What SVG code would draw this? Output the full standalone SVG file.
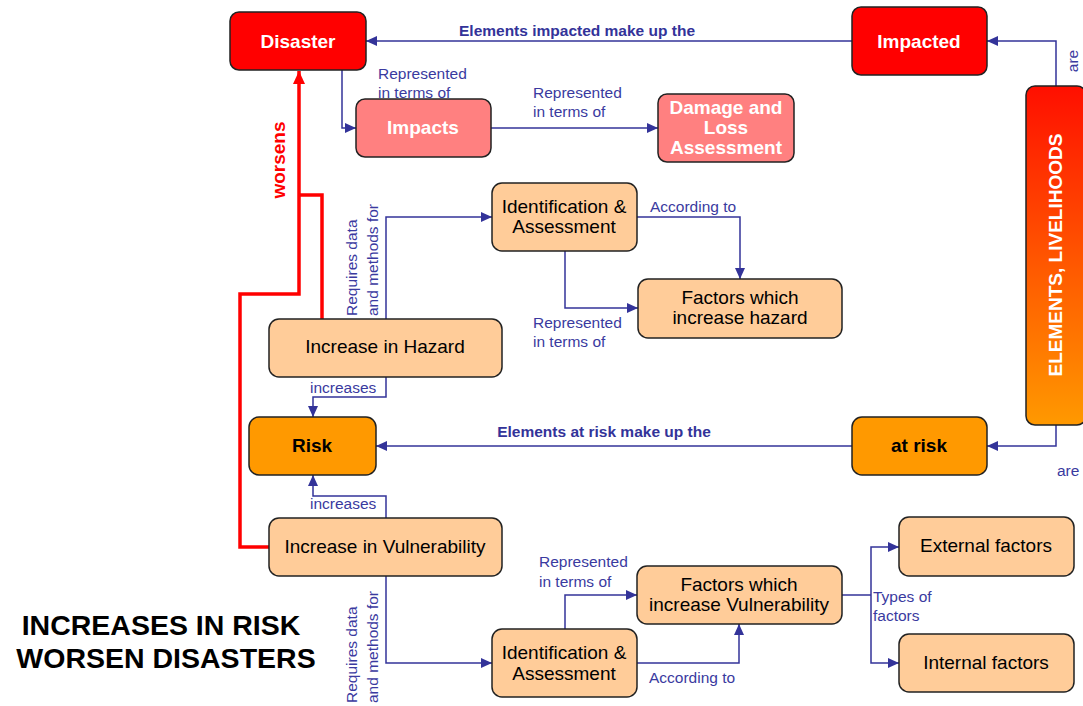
<svg xmlns="http://www.w3.org/2000/svg" width="1083" height="706" viewBox="0 0 1083 706">
<defs>
<marker id="ab" markerUnits="userSpaceOnUse" markerWidth="12" markerHeight="10" refX="11" refY="5" orient="auto"><path d="M0,0 L11,5 L0,10 z" fill="#333399"/></marker>
<marker id="ar" markerUnits="userSpaceOnUse" markerWidth="14" markerHeight="12" refX="13" refY="6" orient="auto"><path d="M0,0 L13,6 L0,12 z" fill="#ff0000"/></marker>
<linearGradient id="grad" x1="0" y1="0" x2="0" y2="1"><stop offset="0" stop-color="#ff0f00"/><stop offset="1" stop-color="#ff9900"/></linearGradient>
<style>
.n{stroke:#222;stroke-width:1.5}
.red{fill:#ff0000}
.pink{fill:#ff8080}
.org{fill:#ff9900}
.peach{fill:#ffcc99}
.tw{font-family:"Liberation Sans",Arial,sans-serif;font-weight:bold;font-size:19px;fill:#fff;text-anchor:middle}
.tb{font-family:"Liberation Sans",Arial,sans-serif;font-weight:bold;font-size:19px;fill:#000;text-anchor:middle}
.tn{font-family:"Liberation Sans",Arial,sans-serif;font-size:19px;fill:#000;text-anchor:middle}
.lb{font-family:"Liberation Sans",Arial,sans-serif;font-size:15.5px;fill:#3a3aa0}
.lbb{font-family:"Liberation Sans",Arial,sans-serif;font-size:15.5px;font-weight:bold;fill:#333399}
.c{fill:none;stroke:#333399;stroke-width:1.5}
.rc{fill:none;stroke:#ff0000;stroke-width:3.5}
</style>
</defs>
<g id="connectors">
<path class="c" d="M852,41 L366,41" marker-end="url(#ab)"/>
<path class="c" d="M1056,86 L1056,41 L987,41" marker-end="url(#ab)"/>
<path class="c" d="M342,70 L342,128 L356,128" marker-end="url(#ab)"/>
<path class="c" d="M491,128 L658,128" marker-end="url(#ab)"/>
<path class="c" d="M852,446 L376,446" marker-end="url(#ab)"/>
<path class="c" d="M1056,425 L1056,446 L987,446" marker-end="url(#ab)"/>
<path class="c" d="M386,319 L386,217 L492,217" marker-end="url(#ab)"/>
<path class="c" d="M637,217 L740,217 L740,279" marker-end="url(#ab)"/>
<path class="c" d="M565,251 L565,308 L638,308" marker-end="url(#ab)"/>
<path class="c" d="M386,377 L386,397 L313,397 L313,417" marker-end="url(#ab)"/>
<path class="c" d="M386,518 L386,496 L313,496 L313,475" marker-end="url(#ab)"/>
<path class="c" d="M386,576 L386,663 L492,663" marker-end="url(#ab)"/>
<path class="c" d="M565,629 L565,595 L637,595" marker-end="url(#ab)"/>
<path class="c" d="M637,663 L739,663 L739,624" marker-end="url(#ab)"/>
<path class="c" d="M842,595 L871,595"/>
<path class="c" d="M871,595 L871,547 L899,547" marker-end="url(#ab)"/>
<path class="c" d="M871,595 L871,663 L899,663" marker-end="url(#ab)"/>
<path class="rc" d="M322,319 L322,195 L299,195"/>
<path class="rc" d="M269,547 L240,547 L240,294 L299,294 L299,71" marker-end="url(#ar)"/>
<text class="lbb" x="577" y="36" text-anchor="middle">Elements impacted make up the</text>
<text class="lbb" x="604" y="437" text-anchor="middle">Elements at risk make up the</text>
<text class="lb" transform="translate(1078,61) rotate(-90)" text-anchor="middle">are</text>
<text class="lb" x="1057" y="476">are</text>
<text class="lb" x="378" y="79">Represented</text>
<text class="lb" x="378" y="98">in terms of</text>
<text class="lb" x="533" y="98">Represented</text>
<text class="lb" x="533" y="117">in terms of</text>
<text class="lb" x="650" y="212">According to</text>
<text class="lb" x="533" y="328">Represented</text>
<text class="lb" x="533" y="347">in terms of</text>
<text class="lb" x="310" y="393">increases</text>
<text class="lb" x="310" y="509">increases</text>
<text class="lb" x="539" y="567">Represented</text>
<text class="lb" x="539" y="587">in terms of</text>
<text class="lb" x="649" y="683">According to</text>
<text class="lb" x="873" y="602">Types of</text>
<text class="lb" x="873" y="621">factors</text>
<text class="lb" transform="translate(357,316) rotate(-90)">Requires data</text>
<text class="lb" transform="translate(378,316) rotate(-90)">and methods for</text>
<text class="lb" transform="translate(357,703) rotate(-90)">Requires data</text>
<text class="lb" transform="translate(378,703) rotate(-90)">and methods for</text>
<text transform="translate(285,160) rotate(-90)" text-anchor="middle" font-family="Liberation Sans, Arial, sans-serif" font-weight="bold" font-size="19" fill="#ff0000">worsens</text>
</g>
<g id="disaster"><rect class="n red" x="230" y="12" width="136" height="58" rx="9"/><text class="tw" x="298" y="48">Disaster</text></g>
<g id="impacted"><rect class="n red" x="852" y="7" width="135" height="68" rx="9"/><text class="tw" x="919" y="48">Impacted</text></g>
<g id="impacts"><rect class="n pink" x="356" y="99" width="135" height="58" rx="9"/><text class="tw" x="423" y="134">Impacts</text></g>
<g id="damage"><rect class="n pink" x="658" y="94" width="136" height="68" rx="9"/><text class="tw" x="726" y="114">Damage and</text><text class="tw" x="726" y="134">Loss</text><text class="tw" x="726" y="154">Assessment</text></g>
<g id="elements"><rect class="n" fill="url(#grad)" x="1026" y="86" width="60" height="339" rx="9"/><text class="tw" transform="translate(1062,255) rotate(-90)">ELEMENTS, LIVELIHOODS</text></g>
<g id="ident-hazard"><rect class="n peach" x="492" y="183" width="145" height="68" rx="10"/><text class="tn" x="564" y="213">Identification &amp;</text><text class="tn" x="564" y="233">Assessment</text></g>
<g id="factors-hazard"><rect class="n peach" x="638" y="279" width="204" height="59" rx="10"/><text class="tn" x="740" y="304">Factors which</text><text class="tn" x="740" y="324">increase hazard</text></g>
<g id="hazard"><rect class="n peach" x="269" y="319" width="233" height="58" rx="10"/><text class="tn" x="385" y="353">Increase in Hazard</text></g>
<g id="risk"><rect class="n org" x="249" y="417" width="127" height="58" rx="10"/><text class="tb" x="312" y="452">Risk</text></g>
<g id="atrisk"><rect class="n org" x="852" y="417" width="135" height="58" rx="10"/><text class="tb" x="919" y="452">at risk</text></g>
<g id="vulnerability"><rect class="n peach" x="269" y="518" width="233" height="58" rx="10"/><text class="tn" x="385" y="553">Increase in Vulnerability</text></g>
<g id="factors-vuln"><rect class="n peach" x="637" y="566" width="205" height="58" rx="10"/><text class="tn" x="739" y="591">Factors which</text><text class="tn" x="739" y="611">increase Vulnerability</text></g>
<g id="ident-vuln"><rect class="n peach" x="492" y="629" width="145" height="68" rx="10"/><text class="tn" x="564" y="659">Identification &amp;</text><text class="tn" x="564" y="680">Assessment</text></g>
<g id="external"><rect class="n peach" x="899" y="517" width="175" height="59" rx="10"/><text class="tn" x="986" y="552">External factors</text></g>
<g id="internal"><rect class="n peach" x="899" y="634" width="175" height="58" rx="10"/><text class="tn" x="986" y="669">Internal factors</text></g>
<g id="title"><text x="161" y="635" text-anchor="middle" font-family="Liberation Sans, Arial, sans-serif" font-weight="bold" font-size="28.5" fill="#000">INCREASES IN RISK</text><text x="166" y="668" text-anchor="middle" font-family="Liberation Sans, Arial, sans-serif" font-weight="bold" font-size="28.5" fill="#000">WORSEN DISASTERS</text></g>
</svg>
